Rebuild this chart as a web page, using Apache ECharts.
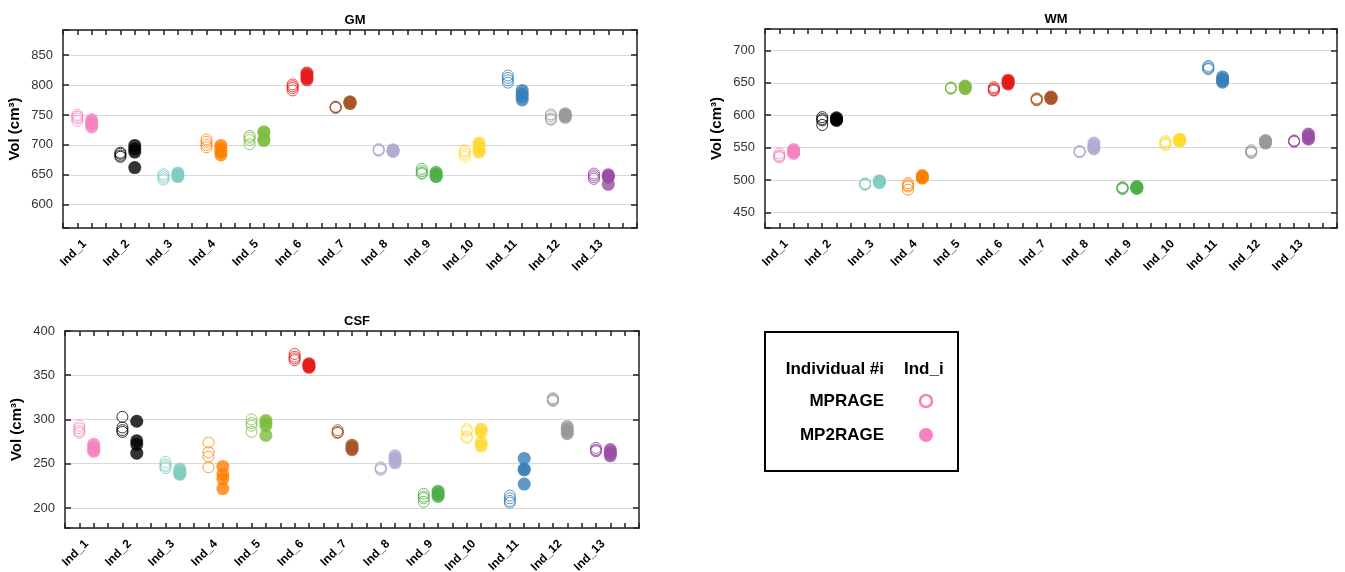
<!DOCTYPE html>
<html>
<head>
<meta charset="utf-8">
<script src="https://cdn.jsdelivr.net/npm/echarts@6/dist/echarts.min.js"></script>
<style>
html,body{margin:0;padding:0;background:#fff;}
#chart{width:1345px;height:572px;}
</style>
</head>
<body>
<div id="chart"></div>
<script>
// ---------- data ----------
const individuals = ['Ind_1','Ind_2','Ind_3','Ind_4','Ind_5','Ind_6','Ind_7','Ind_8','Ind_9','Ind_10','Ind_11','Ind_12','Ind_13'];
const sequences = ['MPRAGE','MP2RAGE'];
const panelTitles = ['GM','WM','CSF'];

const gmMPRAGE = [[750,747,744,740],[687,685,682,680],[651,648,645,642],[709,705,700,696],[715,712,708,701],[801,798,795,791],[764,763,762,762],[693,692,691,690],[660,656,653,652],[691,688,684,680],[816,812,808,804],[751,748,744,742],[652,649,646,643]];
const gmMP2RAGE = [[742,738,734,730],[699,693,688,662],[653,650,648,647],[699,694,688,683],[722,720,709,707],[820,816,812,809],[772,771,770,769],[692,691,690,689],[654,651,648,647],[703,698,692,688],[791,785,780,775],[752,750,748,746],[650,648,646,634]];

const wmMPRAGE = [[541,538,536,535],[597,594,592,585],[495,494,493,493],[495,492,490,485],[643,642,641,641],[643,641,639,638],[626,625,624,623],[545,544,543,543],[489,488,487,486],[560,558,556,554],[676,674,672,671],[546,544,543,542],[561,560,560,559]];
const wmMP2RAGE = [[547,545,543,541],[596,594,593,592],[499,498,497,496],[507,505,504,503],[645,644,642,641],[654,652,650,648],[628,627,626,626],[557,553,550,548],[490,489,488,487],[563,562,561,560],[659,656,653,651],[561,560,558,557],[571,568,565,563]];

const csfMPRAGE = [[293,290,287,285],[303,291,288,286],[252,249,247,245],[274,263,258,246],[300,296,293,286],[374,371,369,367],[288,286,285,285],[246,245,244,243],[216,213,211,207],[289,287,281,279],[214,211,208,206],[324,323,322,321],[268,266,265,264]];
const csfMP2RAGE = [[272,269,266,264],[298,276,272,262],[244,241,239,238],[247,238,233,222],[299,296,293,282],[363,362,360,359],[271,269,267,266],[259,256,253,251],[219,217,215,213],[289,286,274,270],[256,244,243,227],[292,289,286,284],[266,263,261,259]];

// ---------- styles ----------
const palette = ['#F781BF','#000000','#80CDC1','#FF7F00','#7FBC41','#E41A1C','#A65628','#B2ABD2','#4DAF4A','#FFD92F','#377EB8','#999999','#984EA3'];
const FONT = '"Liberation Sans", Arial, Helvetica, sans-serif';

const panels = [
  {title:panelTitles[0], mp:gmMPRAGE,  mp2:gmMP2RAGE,  grid:{left:63, top:30, width:574, height:198}, ymin:561, ymax:892},
  {title:panelTitles[1], mp:wmMPRAGE,  mp2:wmMP2RAGE,  grid:{left:765,top:29, width:572, height:199}, ymin:426, ymax:733},
  {title:panelTitles[2], mp:csfMPRAGE, mp2:csfMP2RAGE, grid:{left:65, top:331,width:574, height:197}, ymin:177.4, ymax:400}
];

const grids=[], xAxes=[], yAxes=[], series=[], titles=[];
const lineStyle = {color:'#222', width:1.5};

panels.forEach((p, gi) => {
  grids.push(Object.assign({show:false, containLabel:false, outerBoundsMode:'none'}, p.grid));
  titles.push({
    text: p.title,
    left: p.grid.left + p.grid.width/2,
    top: p.grid.top - 21,
    textAlign: 'center',
    textStyle: {fontFamily: FONT, fontSize: 13, fontWeight: 'bold', color: '#000'}
  });
  const xBase = xAxes.length;
  // bottom tick axis (data axis)
  xAxes.push({type:'value', gridIndex:gi, position:'bottom', min:0, max:40, interval:1,
    axisLine:{show:true, onZero:false, lineStyle}, axisTick:{show:true, inside:true, length:5, lineStyle},
    axisLabel:{show:false}, splitLine:{show:false}});
  // bottom label axis
  xAxes.push({type:'value', gridIndex:gi, position:'bottom', min:0, max:40, interval:1.5,
    axisLine:{show:false}, axisTick:{show:false}, splitLine:{show:false},
    axisLabel:{show:true, rotate:45, margin:14, fontFamily:FONT, fontSize:12, fontWeight:'bold', color:'#000',
      showMinLabel:true, showMaxLabel:true,
      formatter: v => { const k = Math.round(v/1.5); if (Math.abs(v/1.5-k) > 1e-6 || k % 2 === 0 || k > 25) return ''; return individuals[(k-1)/2]; }}});
  // top mirror axis
  xAxes.push({type:'value', gridIndex:gi, position:'top', min:0, max:40, interval:1,
    axisLine:{show:true, onZero:false, lineStyle}, axisTick:{show:true, inside:true, length:5, lineStyle},
    axisLabel:{show:false}, splitLine:{show:false}});
  const yBase = yAxes.length;
  yAxes.push({type:'value', gridIndex:gi, position:'left', min:p.ymin, max:p.ymax, splitNumber:5,
    name:'Vol (cm³)', nameLocation:'middle', nameGap:41, nameRotate:90,
    nameTextStyle:{fontFamily:FONT, fontSize:15, fontWeight:'bold', color:'#000'},
    axisLine:{show:true, onZero:false, lineStyle}, axisTick:{show:true, inside:true, length:6, lineStyle},
    axisLabel:{show:true, margin:10, fontFamily:FONT, fontSize:13, color:'#333',
      formatter: v => (Math.abs(v % 50) < 1e-6 ? String(v) : '')},
    splitLine:{show:true, lineStyle:{color:'#d9d9d9', width:1}}});
  yAxes.push({type:'value', gridIndex:gi, position:'right', min:p.ymin, max:p.ymax, splitNumber:5,
    axisLine:{show:true, onZero:false, lineStyle}, axisTick:{show:true, inside:true, length:6, lineStyle},
    axisLabel:{show:false}, splitLine:{show:false}});

  individuals.forEach((name, i) => {
    const c = palette[i];
    series.push({
      type:'scatter', name: name + ' MPRAGE', xAxisIndex:xBase, yAxisIndex:yBase,
      symbol:'circle', symbolSize:11,
      itemStyle:{color:'rgba(0,0,0,0)', borderColor:c, borderWidth:1},
      emphasis:{disabled:true}, silent:true,
      data: p.mp[i].map(v => [3*i+1, v])
    });
    series.push({
      type:'scatter', name: name + ' MP2RAGE', xAxisIndex:xBase, yAxisIndex:yBase,
      symbol:'circle', symbolSize:13,
      itemStyle:{color:c, borderWidth:0},
      emphasis:{disabled:true}, silent:true,
      data: p.mp2[i].map(v => [3*i+2, v])
    });
  });
});

// legend box (drawn as graphic)
const legendText = {fontFamily: FONT, fontSize: 17, fontWeight: 'bold', fill: '#000'};
const graphic = [
  {type:'rect', shape:{x:765, y:332, width:193, height:139}, style:{fill:'#fff', stroke:'#000', lineWidth:2}},
  {type:'text', x:884, y:369, style:Object.assign({text:'Individual #i', textAlign:'right', textVerticalAlign:'middle'}, legendText)},
  {type:'text', x:904, y:369, style:Object.assign({text:'Ind_i', textAlign:'left', textVerticalAlign:'middle'}, legendText)},
  {type:'text', x:884, y:401, style:Object.assign({text:sequences[0], textAlign:'right', textVerticalAlign:'middle'}, legendText)},
  {type:'text', x:884, y:435, style:Object.assign({text:sequences[1], textAlign:'right', textVerticalAlign:'middle'}, legendText)},
  {type:'circle', shape:{cx:926, cy:401, r:6}, style:{fill:'none', stroke:palette[0], lineWidth:2.5}},
  {type:'circle', shape:{cx:926, cy:435, r:7}, style:{fill:palette[0]}}
];

const chart = echarts.init(document.getElementById('chart'), null, {renderer:'canvas'});
chart.setOption({
  animation:false,
  backgroundColor:'#fff',
  title: titles,
  grid: grids,
  xAxis: xAxes,
  yAxis: yAxes,
  series: series,
  graphic: graphic
});
</script>
</body>
</html>
